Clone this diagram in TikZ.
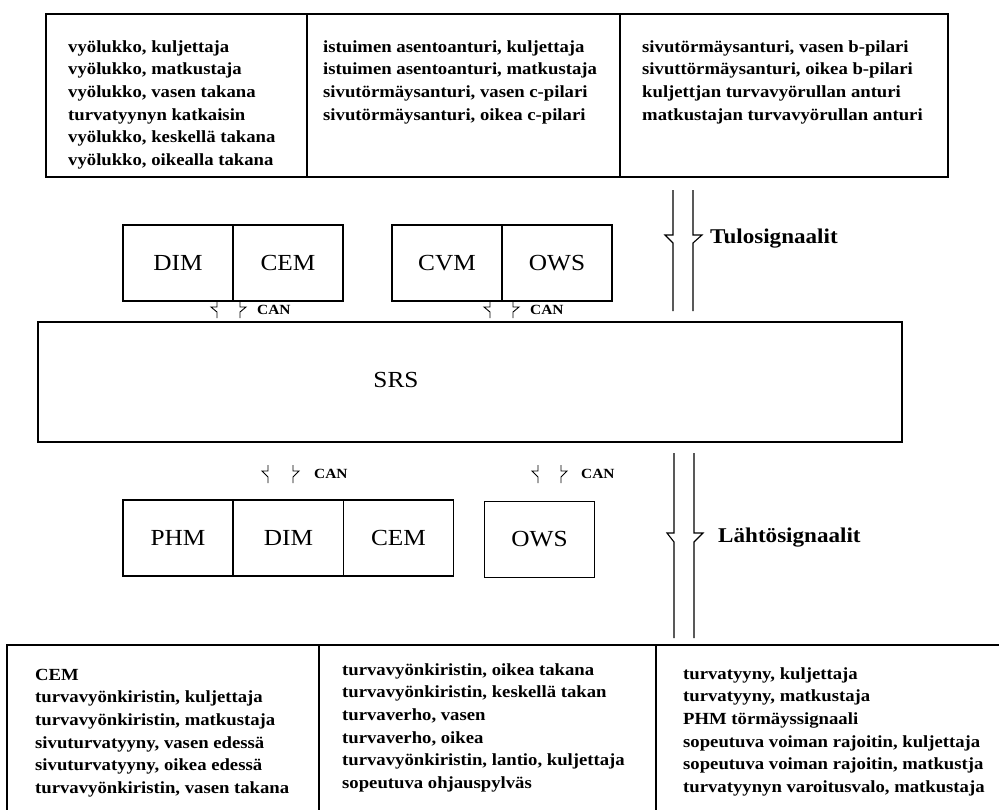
\documentclass[tikz,border=0pt]{standalone}
\usepackage{fontspec}
\setmainfont{Liberation Serif}[FakeStretch=1.1]
\newcommand\colstrut{\rule{0pt}{12pt}}
\begin{document}
\begin{tikzpicture}[x=1pt,y=-1pt,
  cell/.style={draw, line width=1.2pt, inner sep=0pt},
  blk/.style={draw, line width=1.2pt, inner sep=0pt, minimum width=110pt, minimum height=76pt, font=\fontsize{23}{26}\selectfont},
  listtext/.style={anchor=north west, inner sep=0pt, align=left, font=\fontsize{17}{22.6}\selectfont\bfseries},
  canlbl/.style={anchor=west, inner sep=0pt, font=\fontsize{14}{16}\selectfont\bfseries},
  siglbl/.style={anchor=west, inner sep=0pt, font=\fontsize{21}{24}\selectfont\bfseries},
  sigline/.style={line width=1.1pt},
  canline/.style={line width=0.9pt},
]
\clip (0,0) rectangle (999,809);
\fill[white] (0,0) rectangle (999,809);

% top input box
\node[cell, minimum width=261pt, minimum height=163pt] (in1) at (176.5,95.5) {};
\node[cell, minimum width=313pt, minimum height=163pt] (in2) at (463.5,95.5) {};
\node[cell, minimum width=328pt, minimum height=163pt] (in3) at (784,95.5) {};
\node[listtext] (in1t) at (68,40) {\colstrut vyölukko, kuljettaja\\vyölukko, matkustaja\\vyölukko, vasen takana\\turvatyynyn katkaisin\\vyölukko, keskellä takana\\vyölukko, oikealla takana};
\node[listtext] (in2t) at (323,40) {\colstrut istuimen asentoanturi, kuljettaja\\istuimen asentoanturi, matkustaja\\sivutörmäysanturi, vasen c-pilari\\sivutörmäysanturi, oikea c-pilari};
\node[listtext] (in3t) at (642,40) {\colstrut sivutörmäysanturi, vasen b-pilari\\sivuttörmäysanturi, oikea b-pilari\\kuljettjan turvavyörullan anturi\\matkustajan turvavyörullan anturi};

% upper modules
\node[blk] (dim1) at (178,263) {DIM};
\node[blk] (cem1) at (288,263) {CEM};
\node[blk] (cvm1) at (447,263) {CVM};
\node[blk] (ows1) at (557,263) {OWS};

% SRS
\node[cell, minimum width=864pt, minimum height=120pt] (srs) at (470,382) {};
\node[inner sep=0pt, font=\fontsize{23}{26}\selectfont] (srsl) at (396,380) {SRS};

% lower modules
\node[blk] (phm2) at (178,538) {PHM};
\node[blk] (dim2) at (288.5,538) {DIM};
\node[blk] (cem2) at (398.5,538) {CEM};
\node[blk] (ows2) at (539.5,539.5) {OWS};

% bottom output box
\node[cell, minimum width=312pt, minimum height=185pt] (out1) at (163,737.5) {};
\node[cell, minimum width=337pt, minimum height=185pt] (out2) at (487.5,737.5) {};
\node[cell, minimum width=364pt, minimum height=185pt] (out3) at (838,737.5) {};
\node[listtext] (out1t) at (35,668) {\colstrut CEM\\turvavyönkiristin, kuljettaja\\turvavyönkiristin, matkustaja\\sivuturvatyyny, vasen edessä\\sivuturvatyyny, oikea edessä\\turvavyönkiristin, vasen takana};
\node[listtext] (out2t) at (342,663) {\colstrut turvavyönkiristin, oikea takana\\turvavyönkiristin, keskellä takan\\turvaverho, vasen\\turvaverho, oikea\\turvavyönkiristin, lantio, kuljettaja\\sopeutuva ohjauspylväs};
\node[listtext] (out3t) at (683,667) {\colstrut turvatyyny, kuljettaja\\turvatyyny, matkustaja\\PHM törmäyssignaali\\sopeutuva voiman rajoitin, kuljettaja\\sopeutuva voiman rajoitin, matkustja\\turvatyynyn varoitusvalo, matkustaja};

% input signal arrow
\coordinate (ta) at (673,190); \coordinate (tb) at (673,311);
\coordinate (tc) at (693,190); \coordinate (td) at (693,311);
\draw[sigline] (ta) -- (673,235) -- (665,235) -- (673,243) -- (tb);
\draw[sigline] (tc) -- (693,235) -- (702,235) -- (693,243) -- (td);
\node[siglbl] (tulo) at (710,239) {Tulosignaalit};

% output signal arrow
\coordinate (la) at (674,453); \coordinate (lb) at (674,638);
\coordinate (lc) at (694,453); \coordinate (ld) at (694,638);
\draw[sigline] (la) -- (674,533) -- (667,533) -- (674,542) -- (lb);
\draw[sigline] (lc) -- (694,533) -- (703,533) -- (694,542) -- (ld);
\node[siglbl] (lahto) at (718,538) {Lähtösignaalit};

% CAN marks
\draw[canline] (217,302) -- (217,307) -- (211,307) -- (217,312) -- (217,318);
\draw[canline] (240,302) -- (240,307) -- (246,307) -- (240,312) -- (240,318);
\node[canlbl] (can1) at (257,310) {CAN};
\draw[canline] (490,302) -- (490,307) -- (484,307) -- (490,312) -- (490,318);
\draw[canline] (513,302) -- (513,307) -- (519,307) -- (513,312) -- (513,318);
\node[canlbl] (can2) at (530,310) {CAN};
\draw[canline] (268,465) -- (268,471) -- (262,471) -- (268,477) -- (268,483);
\draw[canline] (293,465) -- (293,471) -- (299,471) -- (293,477) -- (293,483);
\node[canlbl] (can3) at (314,474) {CAN};
\draw[canline] (538,465) -- (538,471) -- (532,471) -- (538,477) -- (538,483);
\draw[canline] (561,465) -- (561,471) -- (567,471) -- (561,477) -- (561,483);
\node[canlbl] (can4) at (581,474) {CAN};
\end{tikzpicture}
\end{document}
